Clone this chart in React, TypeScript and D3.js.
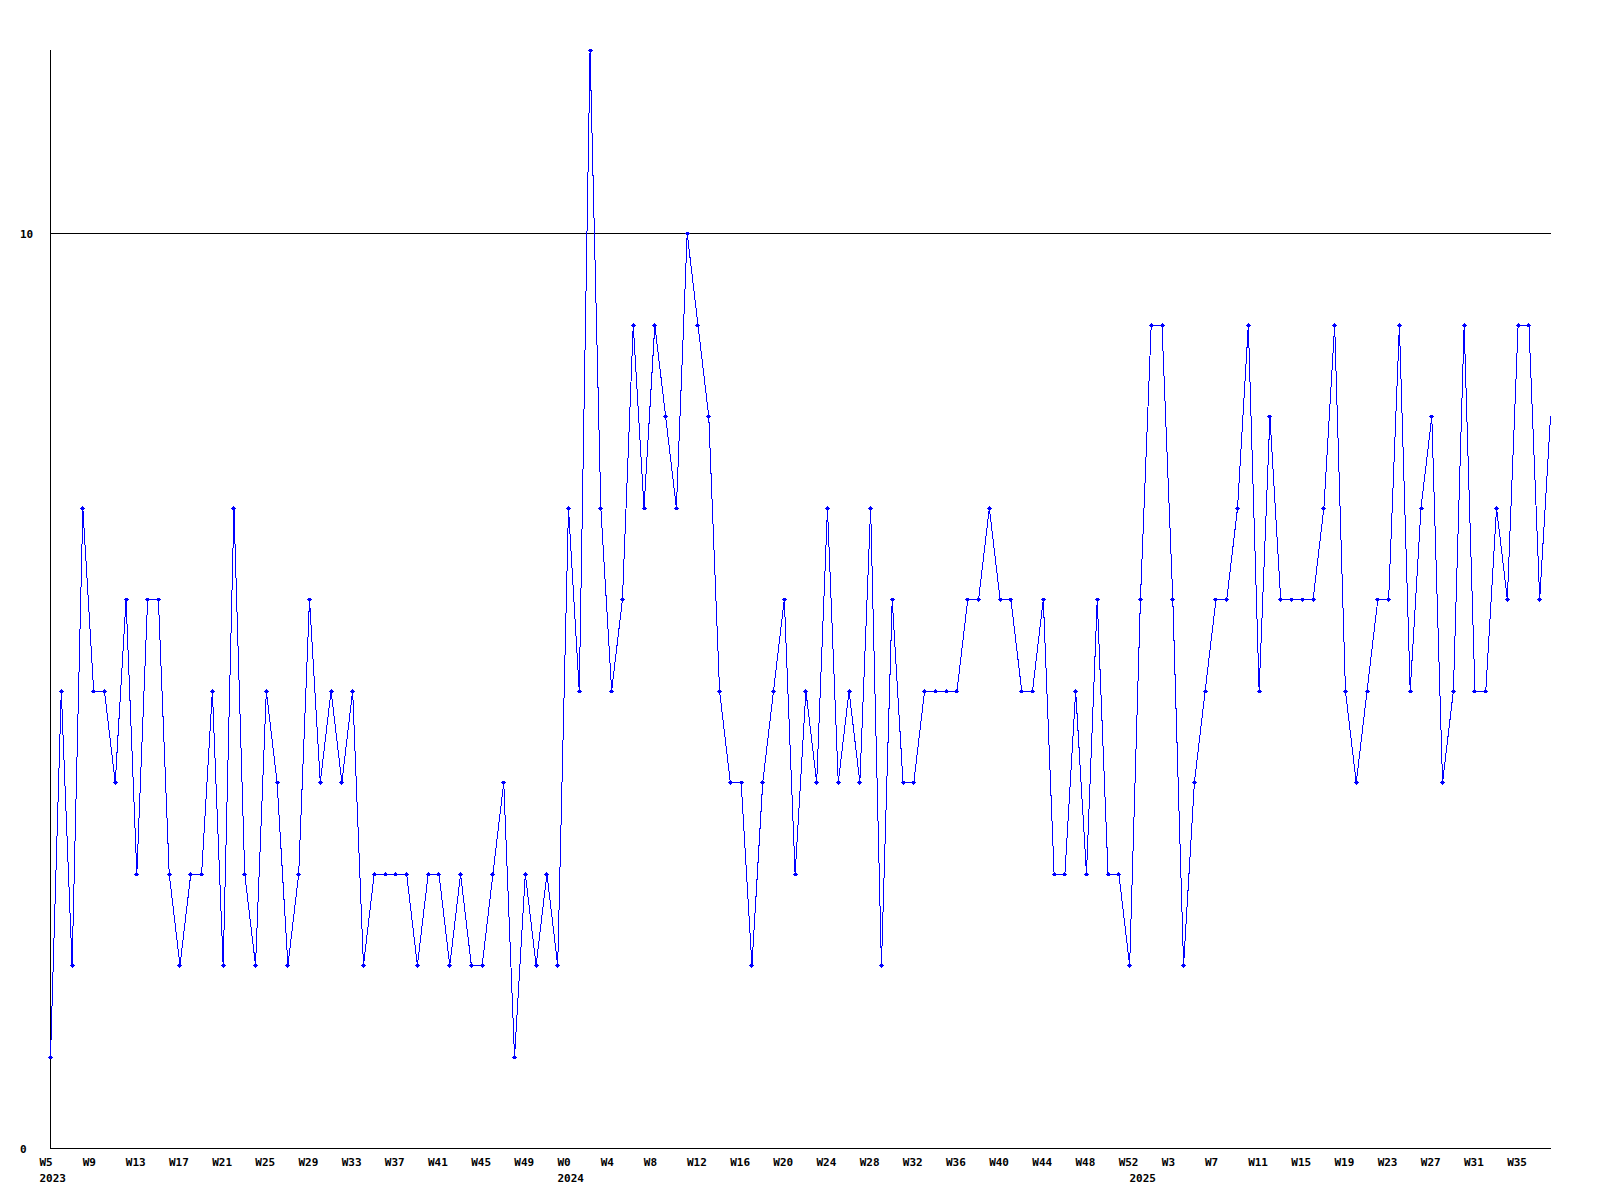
import React from "react";
import * as d3 from "d3";

// Weekly counts, W5 2023 .. W38 2025
const values: number[] = [
  1, 5, 2, 7, 5, 5, 4, 6, 3, 6, 6, 3, 2, 3, 3, 5, 2, 7, 3, 2, 5, 4, 2, 3,
  6, 4, 5, 4, 5, 2, 3, 3, 3, 3, 2, 3, 3, 2, 3, 2, 2, 3, 4, 1, 3, 2, 3, 2, 7, 5, 12,
  7, 5, 6, 9, 7, 9, 8, 7, 10, 9, 8, 5, 4, 4, 2, 4, 5, 6, 3, 5, 4, 7, 4, 5, 4, 7, 2,
  6, 4, 4, 5, 5, 5, 5, 6, 6, 7, 6, 6, 5, 5, 6, 3, 3, 5, 3, 6, 3, 3, 2, 6, 9, 9,
  6, 2, 4, 5, 6, 6, 7, 9, 5, 8, 6, 6, 6, 6, 7, 9, 5, 4, 5, 6, 6, 9, 5, 7, 8, 4, 5,
  9, 5, 5, 7, 6, 9, 9, 6, 8,
];

// x-axis week labels, one every 4 points starting at the first point
const weekLabels: string[] = [
  "W5", "W9", "W13", "W17", "W21", "W25", "W29", "W33", "W37", "W41", "W45", "W49",
  "W0", "W4", "W8", "W12", "W16", "W20", "W24", "W28", "W32", "W36", "W40", "W44", "W48", "W52",
  "W3", "W7", "W11", "W15", "W19", "W23", "W27", "W31", "W35",
];
const weekLabelStep = 4;

// year labels and the point index where each year starts
const yearLabels: string[] = ["2023", "2024", "2025"];
const yearStartIdx: number[] = [0, 48, 101];

// y-axis labels
const yTicks: number[] = [0, 10];
const yMax = 12;

const W = 1600;
const H = 1200;
const left = 50.5;
const right = 1550.5;
const top = 50.5;
const bottom = 1148.5;
const FONT = "'DejaVu Sans Mono', 'Liberation Mono', monospace";

export default function App() {
  const x = d3.scaleLinear().domain([0, values.length - 1]).range([left, right]);
  const y = d3.scaleLinear().domain([0, yMax]).range([bottom, top]);
  const line = d3
    .line<number>()
    .x((_, i) => x(i))
    .y((d) => y(d));

  return (
    <svg
      width={W}
      height={H}
      style={{ position: "absolute", left: 0, top: 0, background: "#ffffff" }}
    >
      <rect x={0} y={0} width={W} height={H} fill="#ffffff" />
      {/* gridline at 10 */}
      {yTicks
        .filter((t) => t > 0)
        .map((t) => (
          <line
            key={"g" + t}
            x1={left}
            x2={right}
            y1={Math.round(y(t) - 0.5) + 0.5}
            y2={Math.round(y(t) - 0.5) + 0.5}
            stroke="#000"
            strokeWidth={1}
            shapeRendering="crispEdges"
          />
        ))}
      {/* axes */}
      <line x1={left} x2={left} y1={top - 1} y2={bottom} stroke="#000" strokeWidth={1} shapeRendering="crispEdges" />
      <line x1={left} x2={right} y1={bottom} y2={bottom} stroke="#000" strokeWidth={1} shapeRendering="crispEdges" />
      {/* y labels */}
      {yTicks.map((t) => (
        <text
          key={"y" + t}
          x={20}
          y={y(t) + 4.5}
          fontFamily={FONT}
          fontWeight="bold"
          fontSize={11}
          fill="#000"
        >
          {t}
        </text>
      ))}
      {/* series line */}
      <path
        d={line(values) || ""}
        fill="none"
        stroke="#0000ff"
        strokeWidth={1}
        shapeRendering="crispEdges"
      />
      {/* markers (last point has none, as in the reference) */}
      {values.slice(0, values.length - 1).map((v, i) => {
        const cx = x(i);
        const cy = y(v);
        return (
          <g key={"m" + i} shapeRendering="crispEdges">
            <path
              d={`M${cx - 2.5},${cy}H${cx + 2.5}M${cx},${cy - 2}V${cy + 2}`}
              stroke="#0000ff"
              strokeWidth={1}
              fill="none"
            />
            <rect x={cx - 1.5} y={cy - 1.5} width={3} height={3} fill="#0000ff" />
          </g>
        );
      })}
      {/* x labels */}
      {weekLabels.map((lab, k) => (
        <text
          key={"w" + k}
          x={x(k * weekLabelStep) - 11}
          y={1165.5}
          fontFamily={FONT}
          fontWeight="bold"
          fontSize={11}
          fill="#000"
        >
          {lab}
        </text>
      ))}
      {yearLabels.map((lab, k) => (
        <text
          key={"yr" + k}
          x={x(yearStartIdx[k]) - 11}
          y={1181.5}
          fontFamily={FONT}
          fontWeight="bold"
          fontSize={11}
          fill="#000"
        >
          {lab}
        </text>
      ))}
    </svg>
  );
}
